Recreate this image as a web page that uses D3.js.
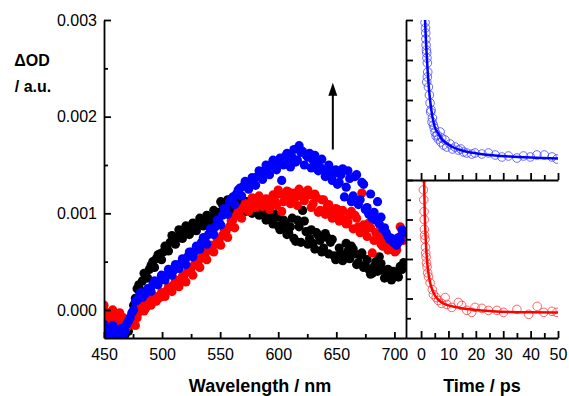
<!DOCTYPE html>
<html>
<head>
<meta charset="utf-8">
<script src="https://cdn.jsdelivr.net/npm/d3@7"></script>
<style>
  body { margin: 0; background: #fff; }
  svg { display: block; font-family: "Liberation Sans", Arial, sans-serif; }
</style>
</head>
<body>
<div id="chart"></div>
<script>
// Transient spectra, values in units of 0.001 OD
// Two interleaved scans per series: wavelengths / wavelengths2
const wavelengths = [450, 453, 456, 459, 462, 465, 468, 471, 474, 477, 480, 483, 486, 489, 492, 495, 498, 501, 504, 507,
  510, 513, 516, 519, 522, 525, 528, 531, 534, 537, 540, 543, 546, 549, 552, 555, 558, 561, 564, 567,
  570, 573, 576, 579, 582, 585, 588, 591, 594, 597, 600, 603, 606, 609, 612, 615, 618, 621, 624, 627,
  630, 633, 636, 639, 642, 645, 648, 651, 654, 657, 660, 663, 666, 669, 672, 675, 678, 681, 684, 687,
  690, 693, 696, 699, 702, 705, 708];
const wavelengths2 = [451.5, 454.5, 457.5, 460.5, 463.5, 466.5, 469.5, 472.5, 475.5, 478.5,
  481.5, 484.5, 487.5, 490.5, 493.5, 496.5, 499.5, 502.5, 505.5, 508.5,
  511.5, 514.5, 517.5, 520.5, 523.5, 526.5, 529.5, 532.5, 535.5, 538.5,
  541.5, 544.5, 547.5, 550.5, 553.5, 556.5, 559.5, 562.5, 565.5, 568.5,
  571.5, 574.5, 577.5, 580.5, 583.5, 586.5, 589.5, 592.5, 595.5, 598.5,
  601.5, 604.5, 607.5, 610.5, 613.5, 616.5, 619.5, 622.5, 625.5, 628.5,
  631.5, 634.5, 637.5, 640.5, 643.5, 646.5, 649.5, 652.5, 655.5, 658.5,
  661.5, 664.5, 667.5, 670.5, 673.5, 676.5, 679.5, 682.5, 685.5, 688.5,
  691.5, 694.5, 697.5, 700.5, 703.5, 706.5];

const blackOD = [-0.30, -0.33, -0.29, -0.31, -0.27, -0.30, -0.26, -0.22, -0.05, 0.12, 0.26, 0.30, 0.34, 0.42, 0.50, 0.53, 0.58, 0.60, 0.65, 0.70,
  0.72, 0.75, 0.79, 0.80, 0.82, 0.84, 0.86, 0.88, 0.91, 0.93, 0.95, 0.97, 0.99, 1.01, 1.09, 1.05, 1.08, 1.10, 1.07, 1.11,
  1.09, 1.12, 1.06, 1.10, 1.04, 1.06, 1.01, 0.97, 0.94, 0.99, 0.87, 0.84, 0.90, 0.80, 0.95, 0.71, 0.86, 1.03, 0.81, 0.74,
  0.69, 0.80, 0.72, 0.64, 0.75, 0.70, 0.56, 0.55, 0.58, 0.54, 0.61, 0.66, 0.58, 0.49, 0.59, 0.46, 0.42, 0.38, 0.50, 0.55,
  0.41, 0.36, 0.34, 0.40, 0.38, 0.45, 0.49];
const blackOD2 = [-0.28, -0.32, -0.30, -0.26, -0.31, -0.24, -0.20, -0.12, 0.05, 0.22,
  0.20, 0.38, 0.33, 0.46, 0.44, 0.57, 0.52, 0.66, 0.61, 0.77,
  0.68, 0.83, 0.74, 0.87, 0.78, 0.90, 0.82, 0.95, 0.87, 0.98,
  0.90, 1.03, 0.94, 1.12, 1.00, 1.14, 1.02, 1.15, 1.04, 1.16,
  1.02, 1.08, 1.00, 1.13, 0.98, 1.04, 0.93, 1.02, 0.89, 0.96,
  0.83, 0.93, 0.78, 0.86, 0.74, 0.93, 0.70, 0.92, 0.68, 0.83,
  0.63, 0.77, 0.60, 0.79, 0.58, 0.73, 0.52, 0.64, 0.51, 0.69,
  0.53, 0.63, 0.47, 0.57, 0.44, 0.52, 0.37, 0.45, 0.40, 0.48,
  0.33, 0.42, 0.31, 0.39, 0.34, 0.42];

const redOD = [0.05, -0.10, -0.05, -0.08, -0.07, -0.12, -0.10, -0.16, -0.06, -0.16, -0.02, 0.03, 0.02, 0.07, 0.10, 0.09, 0.13, 0.17, 0.20, 0.23,
  0.26, 0.28, 0.31, 0.36, 0.40, 0.43, 0.47, 0.50, 0.54, 0.58, 0.62, 0.66, 0.68, 0.72, 0.77, 0.81, 0.86, 0.93, 0.98, 1.03,
  1.06, 1.08, 1.11, 1.12, 1.10, 1.14, 1.12, 1.09, 1.10, 1.13, 1.24, 1.02, 1.18, 1.22, 1.15, 1.17, 1.25, 1.20, 1.22, 1.19,
  1.10, 1.16, 1.03, 1.14, 1.06, 1.00, 0.97, 1.04, 1.00, 0.93, 0.91, 1.02, 0.98, 0.86, 1.21, 0.83, 0.90, 0.59, 0.80, 0.78,
  0.66, 0.68, 0.63, 0.65, 0.62, 0.86, 0.72];
const redOD2 = [-0.02, -0.14, 0.00, -0.12, -0.03, -0.08, -0.18, -0.09, -0.14, -0.08,
  0.06, -0.01, 0.10, 0.05, 0.14, 0.12, 0.18, 0.14, 0.24, 0.19,
  0.31, 0.24, 0.35, 0.29, 0.44, 0.36, 0.51, 0.44, 0.59, 0.52,
  0.67, 0.60, 0.73, 0.67, 0.82, 0.75, 0.92, 0.85, 1.02, 0.95,
  1.10, 1.02, 1.16, 1.06, 1.18, 1.07, 1.15, 1.04, 1.19, 1.08,
  1.20, 1.12, 1.23, 1.10, 1.21, 1.08, 1.18, 1.13, 1.24, 1.06,
  1.20, 1.01, 1.14, 0.99, 1.09, 0.95, 1.05, 0.92, 1.03, 0.89,
  0.98, 0.84, 0.95, 0.80, 0.88, 0.76, 0.85, 0.72, 0.76, 0.68,
  0.72, 0.62, 0.66, 0.60, 0.70, 0.78];

const blueOD = [-0.15, -0.20, -0.24, -0.22, -0.26, -0.19, -0.22, -0.12, -0.03, 0.09, 0.14, 0.13, 0.17, 0.22, 0.26, 0.29, 0.31, 0.34, 0.36, 0.39,
  0.41, 0.45, 0.48, 0.52, 0.55, 0.60, 0.60, 0.65, 0.70, 0.72, 0.78, 0.82, 0.86, 0.91, 0.98, 1.04, 1.12, 1.17, 1.20, 1.26,
  1.28, 1.30, 1.31, 1.36, 1.38, 1.41, 1.44, 1.47, 1.50, 1.48, 1.53, 1.34, 1.59, 1.56, 1.58, 1.53, 1.70, 1.64, 1.60, 1.62,
  1.55, 1.52, 1.48, 1.45, 1.42, 1.43, 1.41, 1.30, 1.40, 1.17, 1.44, 1.12, 1.38, 1.09, 1.32, 1.04, 0.99, 0.95, 0.93, 0.89,
  0.84, 0.80, 0.73, 0.70, 0.67, 0.72, 0.80];
const blueOD2 = [-0.20, -0.26, -0.16, -0.24, -0.20, -0.27, -0.15, -0.08, 0.00, 0.10,
  0.18, 0.16, 0.22, 0.19, 0.30, 0.26, 0.36, 0.31, 0.42, 0.36,
  0.47, 0.43, 0.53, 0.47, 0.60, 0.55, 0.66, 0.63, 0.75, 0.68,
  0.84, 0.78, 0.93, 0.88, 1.05, 0.99, 1.15, 1.09, 1.24, 1.18,
  1.33, 1.25, 1.37, 1.29, 1.44, 1.35, 1.50, 1.40, 1.55, 1.45,
  1.57, 1.50, 1.62, 1.48, 1.66, 1.55, 1.63, 1.50, 1.58, 1.47,
  1.60, 1.44, 1.56, 1.38, 1.50, 1.34, 1.45, 1.32, 1.46, 1.27,
  1.36, 1.18, 1.40, 1.14, 1.30, 1.06, 1.20, 1.01, 1.12, 0.96,
  0.85, 0.76, 0.74, 0.69, 0.75, 0.83];

// Kinetics (arbitrary units), blue trace
const blueTime = [1.30, 1.46, 1.60, 1.70, 1.76, 1.83, 1.95, 2.07, 2.15, 2.30, 2.44, 2.30, 2.07, 2.68, 3.05, 3.29, 3.50, 3.66, 4.00, 4.14,
  4.51, 4.80, 5.12, 5.50, 5.97, 6.30, 6.95, 7.20, 7.56, 8.20, 8.78, 9.38, 10.6, 11.5, 12.4, 13.65, 14.5, 15.5, 16.7, 18.5,
  19.7, 22.2, 24.6, 27.1, 29.5, 31.9, 35.0, 37.4, 39.9, 42.3, 45.0, 47.8, 49.6];
const blueSignal = [8.30, 7.87, 7.60, 7.35, 7.05, 6.75, 6.50, 6.35, 6.10, 5.85, 5.40, 5.15, 4.90, 4.65, 4.25, 3.85, 3.40, 3.50, 2.90, 3.10,
  2.75, 2.60, 2.40, 2.20, 2.25, 2.05, 2.40, 1.90, 2.10, 1.75, 2.00, 1.65, 1.80, 1.55, 1.65, 1.50, 1.55, 1.40, 1.35, 1.30,
  1.35, 1.30, 1.35, 1.25, 1.15, 1.20, 1.10, 1.20, 1.15, 1.25, 1.25, 1.15, 1.05];
const blueFitTime = [1.20, 1.46, 1.70, 2.00, 2.30, 2.68, 3.29, 4.14, 5.00, 6.30, 7.50, 9.40, 11.5, 14.3, 17.0, 20.4, 26.0, 32.5, 40.0, 50.0];
const blueFit = [9.00, 8.00, 7.20, 6.40, 5.70, 4.90, 4.00, 3.17, 2.65, 2.33, 2.05, 1.83, 1.65, 1.50, 1.40, 1.33, 1.24, 1.17, 1.12, 1.08];

// Kinetics (arbitrary units), red trace
const redTime = [0.85, 0.95, 1.00, 1.10, 1.15, 1.20, 1.30, 1.46, 1.60, 1.70, 1.83, 2.00, 2.20, 2.40, 2.70, 3.30, 4.10, 4.50, 5.50, 6.30,
  7.50, 8.80, 9.40, 11.2, 13.6, 14.8, 16.7, 18.5, 19.7, 22.2, 24.6, 27.7, 30.1, 35.0, 39.3, 42.4, 44.8, 47.8, 49.6];
const redSignal = [7.50, 8.10, 7.00, 6.40, 6.00, 5.50, 5.20, 5.00, 4.60, 4.30, 4.10, 3.80, 3.60, 3.30, 3.10, 2.80, 2.45, 2.20, 2.05, 1.90,
  1.75, 2.05, 1.70, 1.55, 1.80, 1.65, 1.40, 1.30, 1.55, 1.50, 1.40, 1.40, 1.30, 1.45, 1.20, 1.60, 1.30, 1.35, 1.30];
const redFitTime = [0.90, 1.10, 1.34, 1.83, 2.40, 3.05, 4.50, 6.00, 7.56, 10.0, 13.0, 16.5, 20.4, 26.0, 32.5, 40.0, 50.0];
const redFit = [8.50, 8.00, 6.30, 4.65, 3.60, 2.97, 2.30, 1.98, 1.80, 1.65, 1.55, 1.47, 1.42, 1.36, 1.32, 1.30, 1.29];

// Axis ticks
const wlMajor = [450, 500, 550, 600, 650, 700];
const wlMinor = [475, 525, 575, 625, 675];
const odMajor = [0, 0.001, 0.002, 0.003];
const odMinor = [0.0005, 0.0015, 0.0025];
const timeMajor = [0, 10, 20, 30, 40, 50];
const timeMinor = [5, 15, 25, 35, 45];
const kinMajor = [2, 4, 6, 8];
const kinMinor = [1, 3, 5, 7];

const svgWidth = 569, svgHeight = 396;
const svg = d3.select('#chart').append('svg')
  .attr('width', svgWidth)
  .attr('height', svgHeight);

// Scales
const x = d3.scaleLinear().domain([450, 710]).range([104, 406]);
const y = d3.scaleLinear().domain([-0.00029, 0.003]).range([338, 20]);
const t = d3.scaleLinear().domain([-5.5, 50]).range([406, 558]);
const yTop = d3.scaleLinear().domain([0, 8]).range([180, 20]);
const yBot = d3.scaleLinear().domain([0, 8]).range([338, 180]);

// Clip regions
const defs = svg.append('defs');
function clip(id, x0, y0, x1, y1) {
  defs.append('clipPath').attr('id', id)
    .append('rect').attr('x', x0).attr('y', y0).attr('width', x1 - x0).attr('height', y1 - y0);
}
clip('clipMain', 104, 20, 406, 338);
clip('clipTop', 406, 20, 558, 180);
clip('clipBot', 406, 180, 558, 338);

// Spectra dots
const main = svg.append('g').attr('clip-path', 'url(#clipMain)');
const spectra = [
  [wavelengths, blackOD, '#000000'], [wavelengths2, blackOD2, '#000000'],
  [wavelengths, redOD, '#ff0000'], [wavelengths2, redOD2, '#ff0000'],
  [wavelengths, blueOD, '#0000ff'], [wavelengths2, blueOD2, '#0000ff']
];
spectra.forEach(([wl, vals, col]) => {
  main.append('g').selectAll('circle')
    .data(vals)
    .enter().append('circle')
    .attr('cx', (d, i) => x(wl[i]))
    .attr('cy', (d) => y(d * 0.001))
    .attr('r', 4.6)
    .style('fill', col);
});

// Kinetic traces
function kinetics(clipId, yScale, times, vals, fitTimes, fitVals, circleCol, lineCol) {
  const g = svg.append('g').attr('clip-path', 'url(#' + clipId + ')');
  g.append('g').selectAll('circle')
    .data(vals)
    .enter().append('circle')
    .attr('cx', (d, i) => t(times[i]))
    .attr('cy', (d) => yScale(d))
    .attr('r', 4.3)
    .style('fill', 'none')
    .style('stroke', circleCol)
    .style('stroke-width', 1);
  const line = d3.line()
    .x((d, i) => t(fitTimes[i]))
    .y((d) => yScale(d))
    .curve(d3.curveMonotoneX);
  g.append('path')
    .datum(fitVals)
    .attr('d', line)
    .style('fill', 'none')
    .style('stroke', lineCol)
    .style('stroke-width', 2.5);
}
kinetics('clipTop', yTop, blueTime, blueSignal, blueFitTime, blueFit, 'rgba(60,60,255,0.75)', '#0000ff');
kinetics('clipBot', yBot, redTime, redSignal, redFitTime, redFit, 'rgba(255,50,50,0.75)', '#ff0000');

// Axes with inward ticks
function styleAxis(g) {
  g.selectAll('path, line').style('stroke', '#000').style('stroke-width', 1.8);
  g.selectAll('text').style('font-size', '16px').style('fill', '#000')
    .style('font-family', '"Liberation Sans", Arial, sans-serif');
}
function drawAxis(axisFn, scale, pos, major, minor, majorLen, minorLen, pad, fmt) {
  const tr = (axisFn === d3.axisLeft) ? 'translate(' + pos + ',0)' : 'translate(0,' + pos + ')';
  svg.append('g').attr('transform', tr)
    .call(axisFn(scale).tickValues(major).tickSize(-majorLen).tickSizeOuter(0).tickPadding(pad)
      .tickFormat(fmt || (() => '')))
    .call(styleAxis);
  svg.append('g').attr('transform', tr)
    .call(axisFn(scale).tickValues(minor).tickSize(-minorLen).tickSizeOuter(0).tickFormat(() => ''))
    .call((g) => g.select('.domain').remove())
    .call(styleAxis);
}

drawAxis(d3.axisLeft, y, 104, odMajor, odMinor, 7, 4, 7, d3.format('.3f'));
drawAxis(d3.axisBottom, x, 338, wlMajor, wlMinor, 6, 4, 11, d3.format('d'));
drawAxis(d3.axisLeft, yTop, 406, kinMajor, kinMinor, 7, 5, 7);
drawAxis(d3.axisBottom, t, 180, timeMajor, timeMinor, 7, 5, 11);
drawAxis(d3.axisLeft, yBot, 406, kinMajor, kinMinor, 7, 5, 7);
drawAxis(d3.axisBottom, t, 338, timeMajor, timeMinor, 7, 5, 11, d3.format('d'));

// Arrow showing growth
const arrowX = x(647);
const arrowTop = y(0.00235);
const arrowBottom = y(0.00166);
svg.append('line')
  .attr('x1', arrowX).attr('x2', arrowX)
  .attr('y1', arrowBottom).attr('y2', arrowTop + 10)
  .style('stroke', '#000').style('stroke-width', 2);
svg.append('path')
  .attr('d', 'M' + arrowX + ',' + arrowTop + 'L' + (arrowX - 4.5) + ',' + (arrowTop + 13) +
    'L' + (arrowX + 4.5) + ',' + (arrowTop + 13) + 'Z')
  .style('fill', '#000');

// Axis titles
svg.append('text').attr('x', 32).attr('y', 66).attr('text-anchor', 'middle')
  .style('font-size', '16px').style('font-weight', 'bold').text('ΔOD');
svg.append('text').attr('x', 33).attr('y', 92).attr('text-anchor', 'middle')
  .style('font-size', '16px').style('font-weight', 'bold').text('/ a.u.');
svg.append('text').attr('x', 260).attr('y', 392).attr('text-anchor', 'middle')
  .style('font-size', '18px').style('font-weight', 'bold').text('Wavelength / nm');
svg.append('text').attr('x', 482).attr('y', 392).attr('text-anchor', 'middle')
  .style('font-size', '18px').style('font-weight', 'bold').text('Time / ps');
</script>
</body>
</html>
